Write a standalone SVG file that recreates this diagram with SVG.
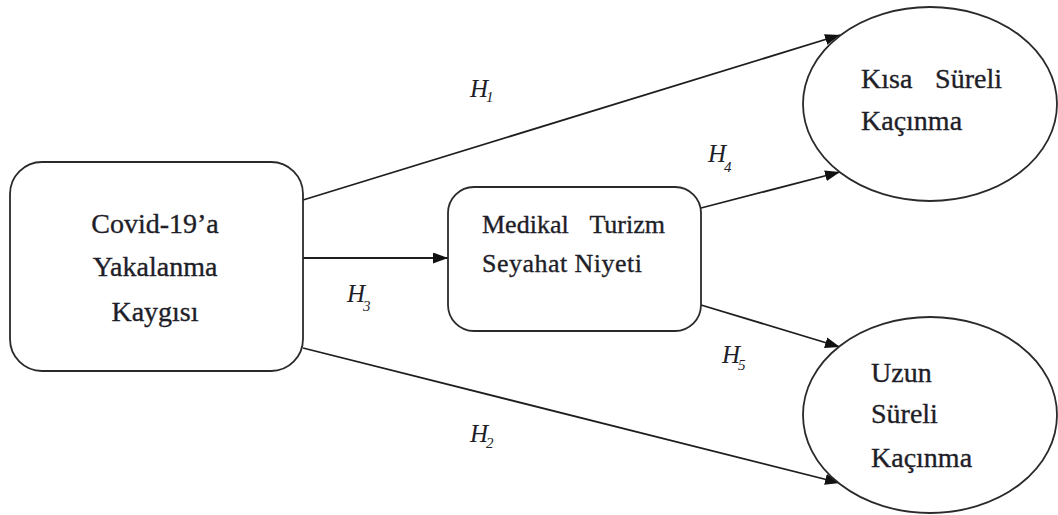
<svg xmlns="http://www.w3.org/2000/svg" width="1058" height="515" viewBox="0 0 1058 515">
<style>
.box{fill:#fff;stroke:#2a2a2a;stroke-width:1.8}
.t{font-family:"Liberation Serif","Times New Roman",serif;fill:#1e1e28;stroke:#1e1e28;stroke-width:0.35}
.lbl{font-family:"Liberation Serif","Times New Roman",serif;font-style:italic;fill:#1e1e28}
.c{stroke:#1e1e1e;stroke-width:1.8;fill:none;marker-end:url(#ah)}
</style>
<defs>
<marker id="ah" markerUnits="userSpaceOnUse" markerWidth="16" markerHeight="12" refX="15" refY="5.5" orient="auto">
<path d="M0,0 L15,5.5 L0,11 z" fill="#111"/>
</marker>
</defs>
<rect width="1058" height="515" fill="#fff"/>
<g id="connectors">
<line class="c" x1="303" y1="200" x2="840" y2="35"/>
<line class="c" x1="303" y1="348" x2="840" y2="483"/>
<line class="c" x1="303" y1="258" x2="448" y2="258"/>
<line class="c" x1="701" y1="208" x2="840" y2="172"/>
<line class="c" x1="701" y1="305" x2="840" y2="347"/>
</g>
<g id="labels">
<text class="lbl" x="470" y="97" font-size="25">H<tspan font-size="15" dx="-2" dy="5">1</tspan></text>
<text class="lbl" x="470" y="442" font-size="25">H<tspan font-size="15" dx="-2" dy="6">2</tspan></text>
<text class="lbl" x="347" y="302" font-size="25">H<tspan font-size="15" dx="-2" dy="9">3</tspan></text>
<text class="lbl" x="708" y="162" font-size="25">H<tspan font-size="15" dx="-2" dy="10">4</tspan></text>
<text class="lbl" x="722" y="363" font-size="25">H<tspan font-size="15" dx="-2" dy="7">5</tspan></text>
</g>
<g id="node-covid">
<rect class="box" x="10" y="162" width="293" height="209" rx="32" ry="32"/>
<text class="t" font-size="28" text-anchor="middle" x="155" y="233">Covid-19’a</text>
<text class="t" font-size="28" text-anchor="middle" x="155" y="276">Yakalanma</text>
<text class="t" font-size="28" text-anchor="middle" x="155" y="321">Kaygısı</text>
</g>
<g id="node-medikal">
<rect class="box" x="448" y="187" width="253" height="144" rx="26" ry="26"/>
<text class="t" font-size="26" x="482" y="233">Medikal</text>
<text class="t" font-size="26" text-anchor="end" x="665" y="233">Turizm</text>
<text class="t" font-size="26" x="482" y="272" textLength="160">Seyahat Niyeti</text>
</g>
<g id="node-kisa">
<ellipse class="box" cx="930" cy="104" rx="127" ry="97"/>
<text class="t" font-size="28" x="861" y="88">Kısa</text>
<text class="t" font-size="28" text-anchor="end" x="1002" y="88">Süreli</text>
<text class="t" font-size="28" x="861" y="130">Kaçınma</text>
</g>
<g id="node-uzun">
<ellipse class="box" cx="930" cy="415" rx="127" ry="98"/>
<text class="t" font-size="28" x="871" y="382">Uzun</text>
<text class="t" font-size="28" x="871" y="423">Süreli</text>
<text class="t" font-size="28" x="871" y="467">Kaçınma</text>
</g>
</svg>
